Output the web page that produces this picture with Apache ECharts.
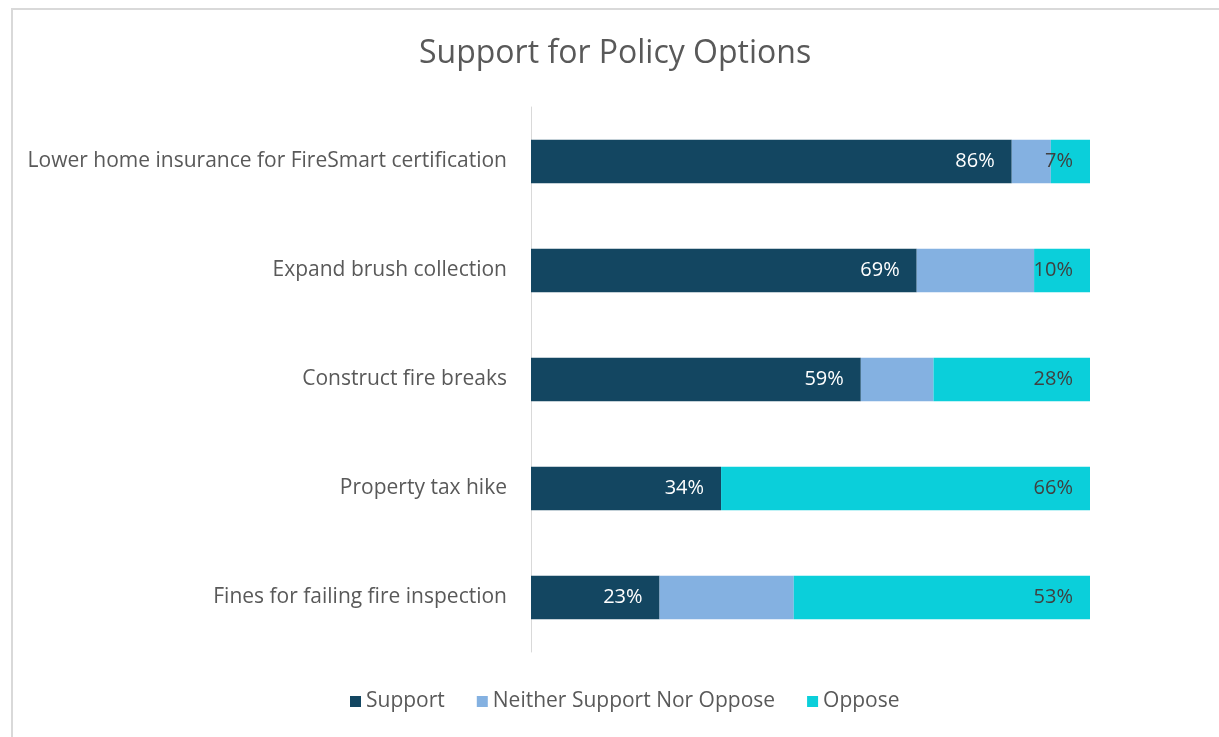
<!DOCTYPE html>
<html>
<head>
<meta charset="utf-8">
<style>
  html, body { margin: 0; padding: 0; background: #ffffff; }
  #chart { width: 1219px; height: 737px; }
</style>
<script src="https://cdn.jsdelivr.net/npm/echarts@6/dist/echarts.min.js"></script>
</head>
<body>
<div id="chart"></div>
<script>
// Policy options (top to bottom) and share of respondents (%)
const categories = [
  'Lower home insurance for FireSmart certification',
  'Expand brush collection',
  'Construct fire breaks',
  'Property tax hike',
  'Fines for failing fire inspection'
];
const supportValues = [86, 69, 59, 34, 23];
const neitherValues = [7, 21, 13, 0, 24];
const opposeValues = [7, 10, 28, 66, 53];
const seriesNames = ['Support', 'Neither Support Nor Oppose', 'Oppose'];

const FONT = '"Open Sans", "Noto Sans", sans-serif';
const chart = echarts.init(document.getElementById('chart'));

function barSeries(name, data, color, labelColor, showLabel) {
  return {
    name: name,
    type: 'bar',
    stack: 'total',
    barWidth: '40%',
    data: data,
    itemStyle: { color: color },
    label: {
      show: showLabel,
      position: 'insideRight',
      color: labelColor,
      fontFamily: FONT,
      fontSize: 20,
      distance: 17,
      formatter: function (p) { return p.value + '%'; }
    },
    emphasis: { disabled: true }
  };
}

chart.setOption({
  animation: false,
  backgroundColor: '#ffffff',
  textStyle: { fontFamily: FONT },
  title: {
    text: 'Support for Policy Options',
    left: 419,
    top: 38,
    padding: 0,
    textStyle: { fontFamily: FONT, fontSize: 32, fontWeight: 'normal', color: '#595959' }
  },
  legend: {
    data: seriesNames,
    bottom: 20,
    left: 345,
    itemWidth: 11,
    itemHeight: 11,
    itemGap: 32,
    icon: 'rect',
    textStyle: { fontFamily: FONT, fontSize: 21, color: '#595959', padding: [0, 0, 0, 0] }
  },
  grid: { left: 531, right: 129, top: 107, bottom: 85, containLabel: false },
  xAxis: {
    type: 'value',
    min: 0,
    max: 100,
    show: false
  },
  yAxis: {
    type: 'category',
    inverse: true,
    data: categories,
    axisLine: { show: true, lineStyle: { color: '#d9d9d9', width: 1 } },
    axisTick: { show: false },
    axisLabel: { color: '#595959', fontFamily: FONT, fontSize: 21, margin: 24 }
  },
  graphic: [{
    type: 'rect',
    shape: { x: 12, y: 9, width: 1240, height: 760 },
    style: { fill: 'none', stroke: '#d9d9d9', lineWidth: 2 },
    silent: true,
    z: -1
  }],
  series: [
    barSeries(seriesNames[0], supportValues, '#134661', '#ffffff', true),
    barSeries(seriesNames[1], neitherValues, '#84b1e1', '#404040', false),
    barSeries(seriesNames[2], opposeValues, '#0bcfda', '#404040', true)
  ]
});
</script>
</body>
</html>
